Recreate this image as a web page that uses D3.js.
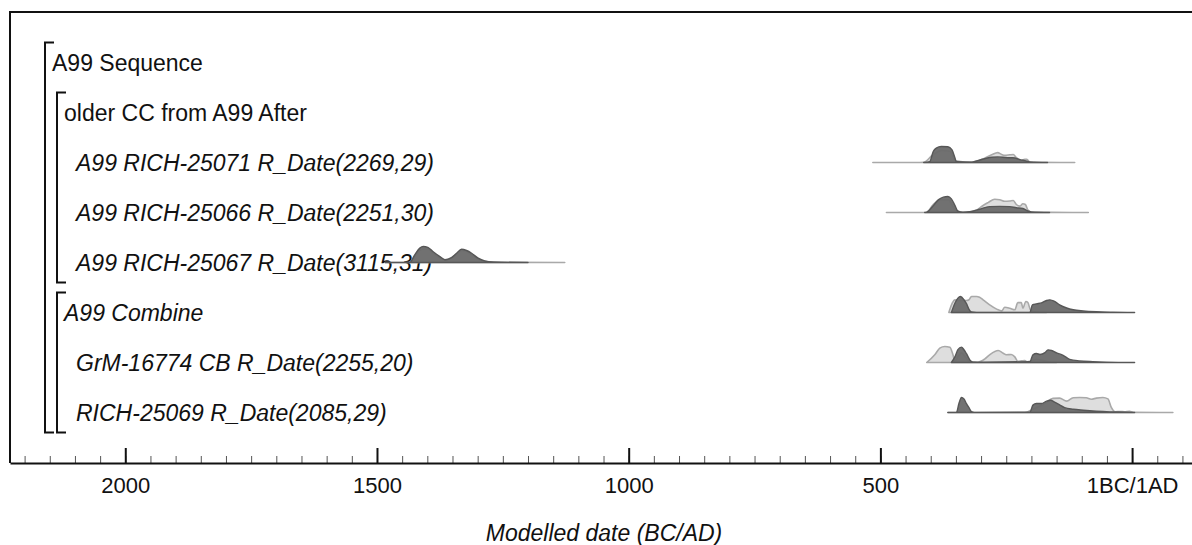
<!DOCTYPE html>
<html>
<head>
<meta charset="utf-8">
<script src="https://cdn.jsdelivr.net/npm/d3@7"></script>
<style>
  html, body { margin: 0; padding: 0; background: #fff; }
  svg { display: block; }
  text { font-family: "Liberation Sans", Arial, sans-serif; fill: #111; }
</style>
</head>
<body>
<svg id="chart" width="1192" height="545"></svg>
<script>
// ---------- data ----------
const rowLabels = [
  "A99 Sequence",
  "older CC from A99 After",
  "A99 RICH-25071 R_Date(2269,29)",
  "A99 RICH-25066 R_Date(2251,30)",
  "A99 RICH-25067 R_Date(3115,31)",
  "A99 Combine",
  "GrM-16774 CB R_Date(2255,20)",
  "RICH-25069 R_Date(2085,29)"
];
const rowDepth = [0, 1, 2, 2, 2, 1, 2, 2];
const rowItalic = [false, false, true, true, true, true, true, true];

// groups: [first row index, last row index, depth]
const groups = [[0, 7, 0], [1, 4, 1], [5, 7, 1]];

// calendar years (BC negative), relative probability (0..1)
const lik1 = [[-515,0],[-430,0],[-414,0.02],[-395,0.5],[-378,0.75],[-362,0.7],[-350,0.1],[-332,0.03],[-312,0.05],[-293,0.27],[-279,0.48],[-267,0.62],[-259,0.5],[-253,0.45],[-243,0.48],[-236,0.5],[-230,0.3],[-220,0.15],[-213,0.2],[-209,0.2],[-203,0.03],[-114,0]];
const post1 = [[-414,0],[-402,0.05],[-395,0.69],[-389,0.9],[-379,1.0],[-366,0.98],[-358,0.8],[-352,0.3],[-349,0.05],[-319,0.02],[-307,0.12],[-279,0.33],[-267,0.35],[-247,0.3],[-237,0.3],[-220,0.15],[-213,0.12],[-203,0.03],[-168,0]];

const lik2 = [[-488,0],[-420,0],[-408,0.02],[-395,0.5],[-380,0.8],[-365,0.8],[-352,0.2],[-336,0.02],[-329,0.02],[-309,0.15],[-296,0.44],[-286,0.62],[-273,0.83],[-263,0.8],[-253,0.7],[-243,0.72],[-236,0.75],[-230,0.5],[-223,0.4],[-217,0.55],[-212,0.5],[-207,0.15],[-200,0.03],[-87,0]];
const post2 = [[-412,0],[-408,0.02],[-395,0.42],[-385,0.79],[-375,0.96],[-366,1.0],[-359,0.85],[-352,0.45],[-346,0.08],[-336,0.02],[-322,0.05],[-303,0.2],[-283,0.37],[-263,0.38],[-243,0.37],[-230,0.3],[-217,0.25],[-207,0.1],[-200,0.03],[-164,0]];

const lik3 = [[-1484,0],[-1435,0],[-1425,0.4],[-1410,0.85],[-1398,0.85],[-1389,0.6],[-1375,0.3],[-1365,0.15],[-1352,0.28],[-1342,0.5],[-1332,0.75],[-1322,0.68],[-1312,0.5],[-1299,0.22],[-1286,0.08],[-1269,0.02],[-1127,0]];
const post3 = [[-1484,0],[-1435,0],[-1425,0.48],[-1415,0.9],[-1408,1.0],[-1399,0.95],[-1389,0.69],[-1375,0.37],[-1365,0.17],[-1352,0.31],[-1342,0.58],[-1332,0.83],[-1322,0.75],[-1312,0.58],[-1299,0.27],[-1286,0.1],[-1269,0.03],[-1200,0]];

const lik4 = [[-364,0],[-357,0.6],[-352,0.79],[-342,0.75],[-329,0.75],[-324,0.8],[-319,1.0],[-309,1.0],[-303,0.95],[-296,0.79],[-283,0.48],[-269,0.21],[-259,0.1],[-253,0.33],[-243,0.27],[-233,0.17],[-227,0.62],[-220,0.62],[-217,0.27],[-211,0.69],[-207,0.62],[-202,0.17],[-193,0.05],[-170,0]];
const post4 = [[-359,0],[-352,0.58],[-346,0.9],[-341,1.0],[-334,0.8],[-329,0.55],[-324,0.2],[-319,0.03],[-309,0],[-203,0],[-198,0.48],[-190,0.54],[-180,0.6],[-170,0.75],[-164,0.79],[-154,0.7],[-144,0.48],[-130,0.28],[-117,0.17],[-97,0.1],[-71,0.05],[-38,0.02],[5,0]];

const lik5 = [[-408,0],[-392,0.48],[-382,0.9],[-372,1.0],[-362,0.95],[-356,0.5],[-352,0.1],[-345,0.4],[-339,0.6],[-330,0.3],[-322,0.05],[-316,0.05],[-306,0.02],[-293,0.21],[-283,0.48],[-266,0.75],[-256,0.58],[-250,0.48],[-240,0.5],[-233,0.35],[-227,0.08],[-220,0.1],[-213,0.12],[-209,0.05],[-200,0.1],[-190,0.2],[-180,0.15],[-167,0.05],[-150,0]];
const post5 = [[-359,0],[-352,0.35],[-346,0.8],[-339,0.96],[-334,0.8],[-329,0.55],[-322,0.15],[-316,0.02],[-203,0.05],[-197,0.48],[-190,0.56],[-183,0.5],[-173,0.62],[-167,0.79],[-160,0.75],[-150,0.6],[-137,0.45],[-124,0.2],[-104,0.1],[-78,0.05],[-51,0.02],[5,0]];

const lik6 = [[-366,0],[-213,0],[-197,0.2],[-180,0.45],[-170,0.65],[-157,0.88],[-144,0.9],[-130,0.71],[-117,0.92],[-104,0.94],[-91,0.92],[-81,0.83],[-71,0.9],[-58,0.94],[-48,0.85],[-41,0.3],[-34,0.05],[-24,0.06],[-15,0.05],[-5,0.08],[2,0.02],[81,0]];
const post6 = [[-366,0],[-349,0],[-344,0.56],[-339,0.94],[-334,0.85],[-329,0.55],[-324,0.3],[-319,0.05],[-313,0],[-203,0.02],[-197,0.46],[-190,0.56],[-180,0.56],[-170,0.71],[-162,0.77],[-154,0.65],[-144,0.48],[-134,0.3],[-117,0.2],[-97,0.14],[-71,0.08],[-44,0.04],[-11,0.02],[5,0]];

// row index -> [likelihood, posterior]
const distributions = [
  [2, lik1, post1],
  [3, lik2, post2],
  [4, lik3, post3],
  [5, lik4, post4],
  [6, lik5, post5],
  [7, lik6, post6]
];

const majorTicks = [-2000, -1500, -1000, -500, 0];
const majorLabels = ["2000", "1500", "1000", "500", "1BC/1AD"];
const minorTicks = d3.range(-2200, 101, 50);
const xDomain = [-2229, 119];
const axisTitle = "Modelled date (BC/AD)";

// ---------- drawing ----------
const svg = d3.select("#chart");
const W = 1192;
const frameLeft = 10, frameTop = 12, axisY = 463;
const rowStep = 50, row0 = 62.5;
const H = 16;

const x = d3.scaleLinear().domain(xDomain).range([frameLeft, W]);
const rowY = i => row0 + i * rowStep;

// frame
svg.append("line").attr("x1", frameLeft).attr("x2", W).attr("y1", frameTop).attr("y2", frameTop)
  .attr("stroke", "#111").attr("stroke-width", 2);
svg.append("line").attr("x1", frameLeft).attr("x2", frameLeft).attr("y1", frameTop - 1).attr("y2", axisY)
  .attr("stroke", "#111").attr("stroke-width", 2);

// brackets
const bracketX = [45, 57];
groups.forEach(([a, b, d]) => {
  const bx = bracketX[d];
  const y1 = rowY(a) - 20, y2 = rowY(b) + 20;
  svg.append("path")
    .attr("d", `M${bx + 9},${y1}H${bx}V${y2}H${bx + 9}`)
    .attr("fill", "none").attr("stroke", "#111").attr("stroke-width", 2);
});

// labels
const labelX = [52, 64, 76];
svg.selectAll("text.row").data(rowLabels).join("text")
  .attr("class", "row")
  .attr("x", (d, i) => labelX[rowDepth[i]])
  .attr("y", (d, i) => rowY(i))
  .attr("dy", "0.35em")
  .style("font-size", "23px")
  .style("font-style", (d, i) => rowItalic[i] ? "italic" : "normal")
  .text(d => d);

// distributions
distributions.forEach(([ri, lik, post]) => {
  const base = rowY(ri);
  const area = d3.area().x(d => x(d[0])).y0(base).y1(d => base - d[1] * H).curve(d3.curveMonotoneX);
  svg.append("path").attr("d", area(lik))
    .attr("fill", "#dedede").attr("stroke", "#a9a9a9").attr("stroke-width", 1.6)
    .attr("stroke-linejoin", "round");
  svg.append("path").attr("d", area(post))
    .attr("fill", "#6a6a6a").attr("stroke", "#575757").attr("stroke-width", 1.4)
    .attr("stroke-linejoin", "round").attr("fill-opacity", 0.95);
});

// axis
const minorAxis = d3.axisBottom(x).tickValues(minorTicks).tickSizeInner(-7).tickSizeOuter(0).tickFormat("");
const gMinor = svg.append("g").attr("transform", `translate(0,${axisY})`).call(minorAxis);
gMinor.selectAll(".tick line").attr("stroke", "#555").attr("stroke-width", 1);
gMinor.select(".domain").remove();

const majorAxis = d3.axisBottom(x).tickValues(majorTicks).tickSizeInner(-15).tickSizeOuter(0)
  .tickPadding(14).tickFormat((d, i) => majorLabels[i]);
const gMajor = svg.append("g").attr("transform", `translate(0,${axisY})`).call(majorAxis);
gMajor.select(".domain").attr("stroke", "#111").attr("stroke-width", 2);
gMajor.selectAll(".tick line").attr("stroke", "#111").attr("stroke-width", 2);
gMajor.selectAll(".tick text")
  .style("font-family", "'Liberation Sans', Arial, sans-serif")
  .style("font-size", "22px").attr("fill", "#111");

svg.append("text")
  .attr("x", 604).attr("y", 533).attr("dy", "0.35em")
  .attr("text-anchor", "middle")
  .style("font-size", "23px").style("font-style", "italic")
  .text(axisTitle);
</script>
</body>
</html>
